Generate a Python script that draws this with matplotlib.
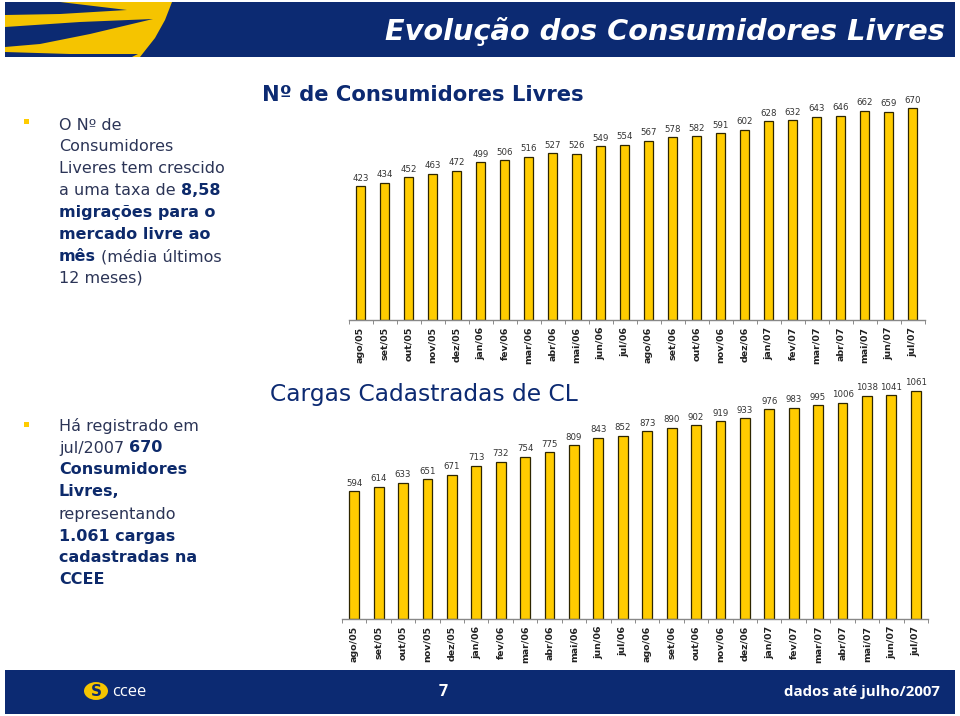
#!/usr/bin/env python3
"""Evolução dos Consumidores Livres - two bar charts with a slide frame."""

import numpy as np
import matplotlib
matplotlib.use('Agg')
import matplotlib.pyplot as plt
from matplotlib.patches import Polygon, Rectangle, Circle

W, H = 960, 716

months = ['ago/05', 'set/05', 'out/05', 'nov/05', 'dez/05', 'jan/06', 'fev/06',
          'mar/06', 'abr/06', 'mai/06', 'jun/06', 'jul/06', 'ago/06', 'set/06',
          'out/06', 'nov/06', 'dez/06', 'jan/07', 'fev/07', 'mar/07', 'abr/07',
          'mai/07', 'jun/07', 'jul/07']
consumidores = [423, 434, 452, 463, 472, 499, 506, 516, 527, 526, 549, 554,
                567, 578, 582, 591, 602, 628, 632, 643, 646, 662, 659, 670]
cargas = [594, 614, 633, 651, 671, 713, 732, 754, 775, 809, 843, 852,
          873, 890, 902, 919, 933, 976, 983, 995, 1006, 1038, 1041, 1061]

NAVY = '#0c2a72'
TEXT_REG = '#2b3456'
TEXT_BOLD = '#0d2a6b'
YELLOW = '#ffcc00'


def fx(x):
    return x / W


def fy(y):
    return 1 - y / H


def px_box(left, top, right, bottom):
    return [fx(left), fy(bottom), fx(right) - fx(left), fy(top) - fy(bottom)]


fig = plt.figure(figsize=(W / 100, H / 100), dpi=100)
renderer = fig.canvas.get_renderer()


def add_poly(pts, color):
    fig.add_artist(Polygon([(fx(x), fy(y)) for x, y in pts], closed=True,
                           transform=fig.transFigure, facecolor=color,
                           edgecolor='none'))


# header band with swoosh
fig.add_artist(Rectangle((fx(5), fy(57)), fx(955) - fx(5), fy(2) - fy(57),
                         transform=fig.transFigure, facecolor=NAVY, edgecolor='none'))
add_poly([(5, 2), (172, 2), (165, 20), (155, 38), (140, 57), (5, 57)], '#f5c400')
add_poly([(5, 2), (60, 2), (127, 10), (60, 14), (5, 15)], NAVY)
add_poly([(5, 27), (80, 22), (153, 19), (90, 34), (40, 44), (5, 47)], NAVY)
add_poly([(5, 52), (70, 54), (138, 54), (132, 57), (5, 57)], NAVY)
fig.text(fx(945), fy(32), 'Evolução dos Consumidores Livres', color='white',
         fontsize=20.7, fontweight='bold', style='italic',
         ha='right', va='center')

# footer band
fig.add_artist(Rectangle((fx(5), fy(714)), fx(955) - fx(5), fy(670) - fy(714),
                         transform=fig.transFigure, facecolor=NAVY, edgecolor='none'))
fig.add_artist(Circle((fx(96), fy(691)), 0.0125, transform=fig.transFigure,
                      facecolor='#f5c400', edgecolor='none'))
fig.text(fx(96), fy(691), 'S', color=NAVY, fontsize=11, fontweight='bold',
         ha='center', va='center')
fig.text(fx(112), fy(692), 'ccee', color='white', family='Open Sans',
         fontsize=12, ha='left', va='center')
fig.text(fx(443), fy(692), '7', color='white', family='Open Sans',
         fontsize=11.5, fontweight='bold', ha='center', va='center')
fig.text(fx(940), fy(692), 'dados até julho/2007', color='white', family='Open Sans',
         fontsize=10.8, fontweight='bold', ha='right', va='center')


def text_width(t):
    return t.get_window_extent(renderer=renderer).width


def rich_line(x, y, runs, size=11.5):
    """Draw a line made of (text, bold) runs, left to right."""
    probe = fig.text(0, 0, 'x x', fontsize=size)
    probe2 = fig.text(0, 0, 'xx', fontsize=size)
    space = text_width(probe) - text_width(probe2)
    probe.remove()
    probe2.remove()
    cur = x
    for s, bold in runs:
        t = fig.text(fx(cur), fy(y), s, fontsize=size,
                     fontweight='bold' if bold else 'normal',
                     color=TEXT_BOLD if bold else TEXT_REG,
                     ha='left', va='center')
        cur += text_width(t) + space


def bullet(y):
    fig.add_artist(Rectangle((fx(24), fy(y + 3)), fx(5), fy(0) - fy(5),
                             transform=fig.transFigure, facecolor=YELLOW,
                             edgecolor='none'))


# left text blocks
bullet(121)
block1 = [
    [('O Nº de', False)],
    [('Consumidores', False)],
    [('Liveres tem crescido', False)],
    [('a uma taxa de', False), ('8,58', True)],
    [('migrações para o', True)],
    [('mercado livre ao', True)],
    [('mês', True), ('(média últimos', False)],
    [('12 meses)', False)],
]
for i, runs in enumerate(block1):
    rich_line(59, 125 + i * 21.9, runs)

bullet(424)
block2 = [
    [('Há registrado em', False)],
    [('jul/2007', False), ('670', True)],
    [('Consumidores', True)],
    [('Livres,', True)],
    [('representando', False)],
    [('1.061 cargas', True)],
    [('cadastradas na', True)],
    [('CCEE', True)],
]
for i, runs in enumerate(block2):
    rich_line(59, 426 + i * 22.0, runs)


def bar_chart(box, values, ymax, title, title_xy, title_bold):
    ax = fig.add_axes(px_box(*box))
    x = np.arange(len(values))
    bars = ax.bar(x, values, width=0.4, color=YELLOW, edgecolor='#2e2600',
                  linewidth=0.9)
    for rect, v in zip(bars, values):
        ax.annotate(str(v), (rect.get_x() + rect.get_width() / 2, v),
                    xytext=(0, 2.5), textcoords='offset points',
                    ha='center', va='bottom', fontsize=6.2, color='#333333')
    ax.set_xlim(-0.5, len(values) - 0.5)
    ax.set_ylim(0, ymax)
    ax.set_xticks(x)
    ax.set_xticklabels(months, rotation=90, fontsize=6.8, fontweight='bold',
                       color='#222222')
    ax.set_xticks(np.arange(len(values) + 1) - 0.5, minor=True)
    ax.tick_params(axis='x', which='major', length=0, pad=5)
    ax.tick_params(axis='x', which='minor', length=3, color='#777777')
    ax.set_yticks([])
    for side in ('top', 'right', 'left'):
        ax.spines[side].set_visible(False)
    ax.spines['bottom'].set_color('#888888')
    ax.spines['bottom'].set_linewidth(1.0)
    ax.patch.set_alpha(0)
    fig.text(fx(title_xy[0]), fy(title_xy[1]), title, color=NAVY,
             fontsize=15.2 if title_bold else 16.8,
             fontweight='bold' if title_bold else 'normal',
             ha='left', va='center')
    return ax


bar_chart((348.5, 100, 924.5, 320), consumidores, 696,
          'Nº de Consumidores Livres', (262, 95), True)
bar_chart((342, 385, 928, 619), cargas, 1088,
          'Cargas Cadastradas de CL', (270, 395), False)

fig.savefig('out.png', dpi=100)
